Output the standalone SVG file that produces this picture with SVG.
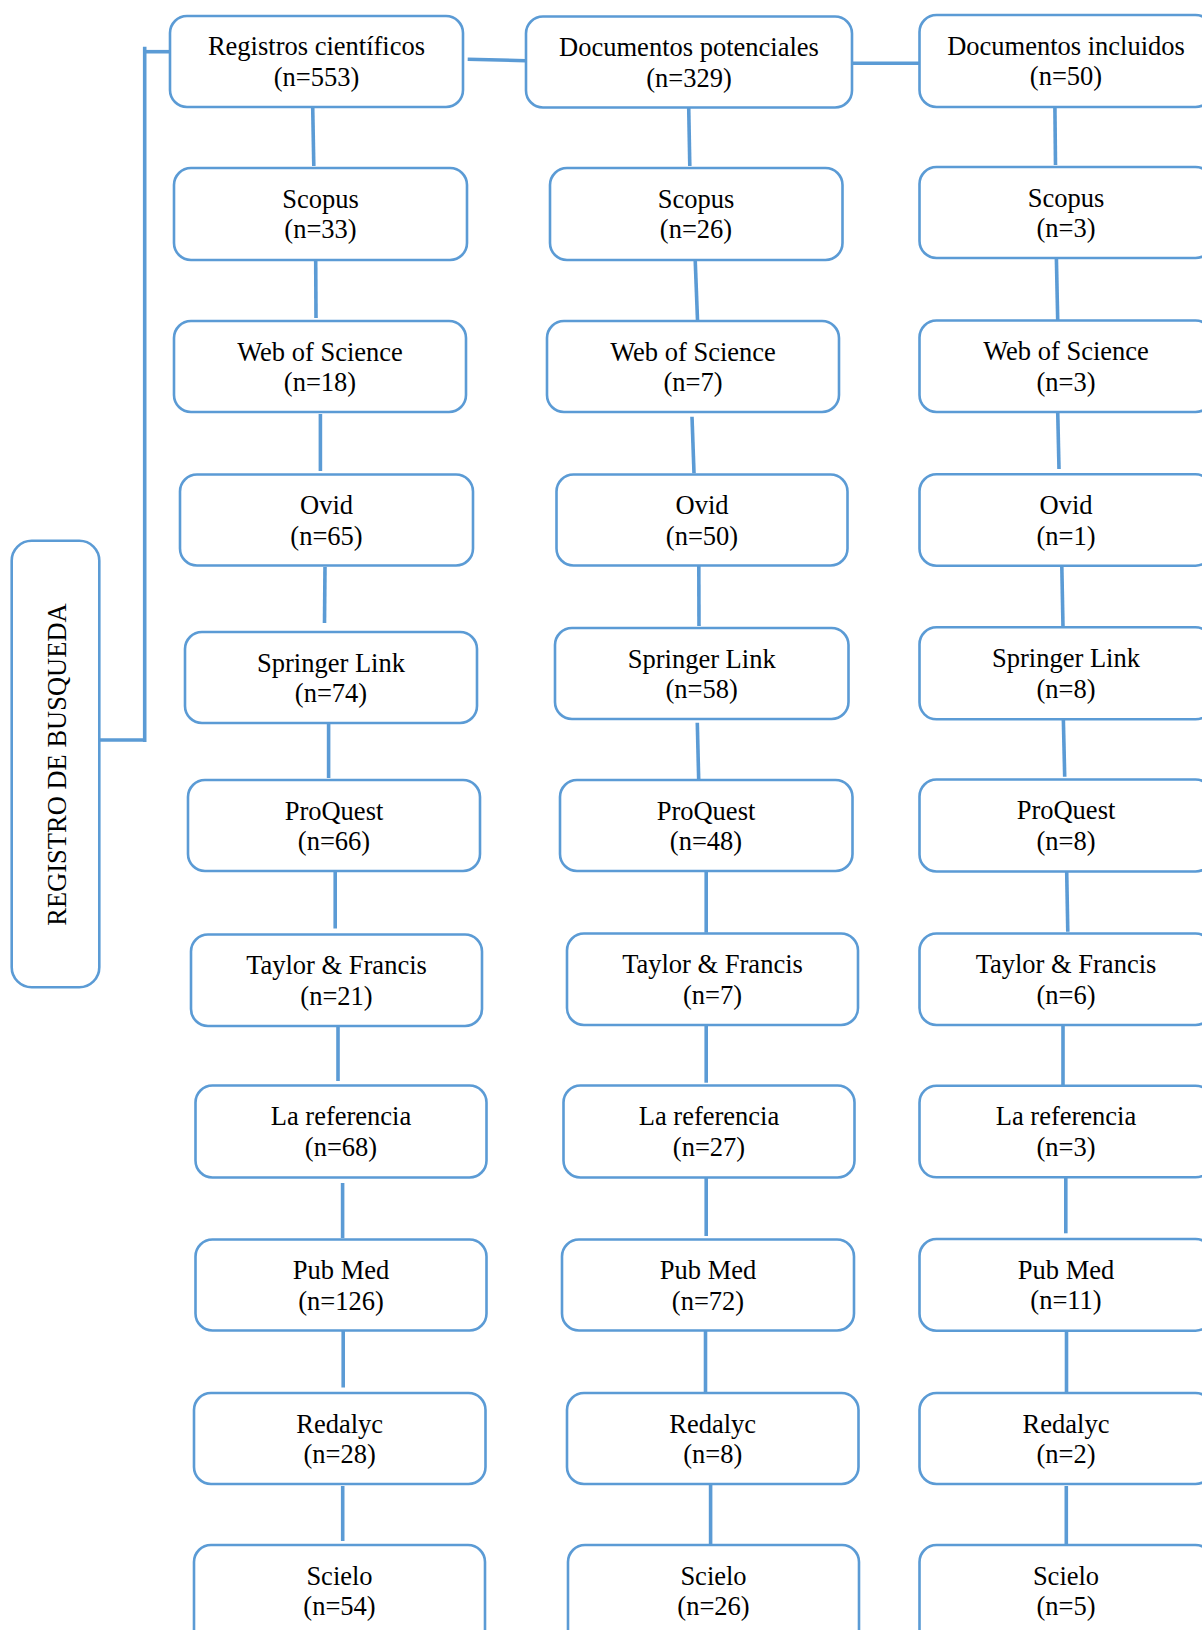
<svg xmlns="http://www.w3.org/2000/svg" width="1202" height="1630" viewBox="0 0 1202 1630">
<style>
.b{fill:#fff;stroke:#5B9BD5;stroke-width:2.6}
.t{font-family:"Liberation Serif","Times New Roman",serif;font-size:26.5px;fill:#000;text-anchor:middle}
.c line{stroke:#5B9BD5;stroke-width:3.6;fill:none}
</style>
<rect width="1202" height="1630" fill="#fff"/>
<g class="c" id="connectors">
<line x1="144.7" y1="46.7" x2="144.7" y2="742"/>
<line x1="143" y1="51.7" x2="170" y2="51.7"/>
<line x1="99" y1="740" x2="146" y2="740"/>
<line x1="467.7" y1="59.3" x2="526" y2="60.7"/>
<line x1="853" y1="63.3" x2="919" y2="63.3"/>
<line x1="312.7" y1="107" x2="313.8" y2="166"/>
<line x1="315.7" y1="261" x2="316" y2="318"/>
<line x1="320.4" y1="414" x2="320.4" y2="471"/>
<line x1="325" y1="567" x2="324.5" y2="623"/>
<line x1="328.6" y1="723" x2="328.6" y2="778"/>
<line x1="335.2" y1="872" x2="335.2" y2="928.5"/>
<line x1="338" y1="1026" x2="338" y2="1081"/>
<line x1="342.6" y1="1183" x2="342.6" y2="1238"/>
<line x1="343.2" y1="1331" x2="343.2" y2="1387.5"/>
<line x1="342.7" y1="1486" x2="342.7" y2="1541"/>
<line x1="688.7" y1="107" x2="689.8" y2="166"/>
<line x1="695.2" y1="260" x2="697.5" y2="320"/>
<line x1="692" y1="416.7" x2="694" y2="473.3"/>
<line x1="698.8" y1="566" x2="699" y2="626"/>
<line x1="697.3" y1="722.7" x2="698.7" y2="780"/>
<line x1="706.2" y1="871" x2="706.2" y2="932.7"/>
<line x1="706.2" y1="1021.3" x2="706.2" y2="1082.7"/>
<line x1="706.2" y1="1174.3" x2="706.2" y2="1236"/>
<line x1="705.5" y1="1331" x2="705.5" y2="1393"/>
<line x1="710.6" y1="1481.7" x2="710.6" y2="1545"/>
<line x1="1054.9" y1="107" x2="1055.5" y2="165"/>
<line x1="1056.4" y1="259" x2="1057.7" y2="320"/>
<line x1="1057.7" y1="411" x2="1059" y2="469"/>
<line x1="1061.8" y1="566" x2="1063" y2="626.7"/>
<line x1="1063.3" y1="717.3" x2="1064.7" y2="776.7"/>
<line x1="1066.7" y1="872" x2="1067.8" y2="931.7"/>
<line x1="1063" y1="1025" x2="1063" y2="1085.7"/>
<line x1="1065.8" y1="1171.7" x2="1065.8" y2="1233.3"/>
<line x1="1066.5" y1="1331" x2="1066.5" y2="1393"/>
<line x1="1066.3" y1="1486" x2="1066.3" y2="1545"/>
</g>
<g id="registro-busqueda"><rect class="b" x="11.7" y="540.7" width="87.6" height="446.6" rx="20"/><text class="t" transform="translate(65.5,764.5) rotate(-90)">REGISTRO DE BUSQUEDA</text></g>
<g id="c1-registros"><rect class="b" x="170" y="16" width="293" height="91" rx="17"/><text class="t" x="316.5" y="55">Registros científicos</text><text class="t" x="316.5" y="86">(n=553)</text></g>
<g id="c1-scopus"><rect class="b" x="174" y="168" width="293" height="92" rx="17"/><text class="t" x="320.5" y="208">Scopus</text><text class="t" x="320.5" y="238">(n=33)</text></g>
<g id="c1-wos"><rect class="b" x="174" y="321" width="292" height="91" rx="17"/><text class="t" x="320" y="360.5">Web of Science</text><text class="t" x="320" y="391">(n=18)</text></g>
<g id="c1-ovid"><rect class="b" x="180" y="474.5" width="293" height="91" rx="17"/><text class="t" x="326.5" y="514">Ovid</text><text class="t" x="326.5" y="544.5">(n=65)</text></g>
<g id="c1-springer"><rect class="b" x="185" y="632" width="292" height="91" rx="17"/><text class="t" x="331" y="671.5">Springer Link</text><text class="t" x="331" y="702">(n=74)</text></g>
<g id="c1-proquest"><rect class="b" x="188" y="780" width="292" height="91" rx="17"/><text class="t" x="334" y="819.5">ProQuest</text><text class="t" x="334" y="850">(n=66)</text></g>
<g id="c1-taylor"><rect class="b" x="191" y="934.5" width="291" height="91.5" rx="17"/><text class="t" x="336.5" y="974">Taylor &amp; Francis</text><text class="t" x="336.5" y="1004.5">(n=21)</text></g>
<g id="c1-laref"><rect class="b" x="195.5" y="1085.5" width="291" height="92" rx="17"/><text class="t" x="341" y="1125">La referencia</text><text class="t" x="341" y="1155.5">(n=68)</text></g>
<g id="c1-pubmed"><rect class="b" x="195.5" y="1239.5" width="291" height="91" rx="17"/><text class="t" x="341" y="1279">Pub Med</text><text class="t" x="341" y="1309.5">(n=126)</text></g>
<g id="c1-redalyc"><rect class="b" x="194" y="1393" width="291.5" height="91" rx="17"/><text class="t" x="339.7" y="1432.5">Redalyc</text><text class="t" x="339.7" y="1463">(n=28)</text></g>
<g id="c1-scielo"><rect class="b" x="194" y="1545" width="291" height="110" rx="17"/><text class="t" x="339.5" y="1584.5">Scielo</text><text class="t" x="339.5" y="1615">(n=54)</text></g>
<g id="c2-potenciales"><rect class="b" x="526" y="16.5" width="326" height="91" rx="17"/><text class="t" x="689" y="56">Documentos potenciales</text><text class="t" x="689" y="86.5">(n=329)</text></g>
<g id="c2-scopus"><rect class="b" x="550" y="168" width="292.5" height="92" rx="17"/><text class="t" x="696" y="208">Scopus</text><text class="t" x="696" y="238">(n=26)</text></g>
<g id="c2-wos"><rect class="b" x="547" y="321" width="292" height="91" rx="17"/><text class="t" x="693" y="360.5">Web of Science</text><text class="t" x="693" y="391">(n=7)</text></g>
<g id="c2-ovid"><rect class="b" x="556.5" y="474.5" width="291" height="91" rx="17"/><text class="t" x="702" y="514">Ovid</text><text class="t" x="702" y="544.5">(n=50)</text></g>
<g id="c2-springer"><rect class="b" x="555" y="628" width="293.5" height="91" rx="17"/><text class="t" x="701.7" y="667.5">Springer Link</text><text class="t" x="701.7" y="698">(n=58)</text></g>
<g id="c2-proquest"><rect class="b" x="560" y="780" width="292.5" height="91" rx="17"/><text class="t" x="706" y="819.5">ProQuest</text><text class="t" x="706" y="850">(n=48)</text></g>
<g id="c2-taylor"><rect class="b" x="567" y="933.5" width="291" height="91.5" rx="17"/><text class="t" x="712.5" y="973">Taylor &amp; Francis</text><text class="t" x="712.5" y="1003.5">(n=7)</text></g>
<g id="c2-laref"><rect class="b" x="563.5" y="1085.5" width="291" height="92" rx="17"/><text class="t" x="709" y="1125">La referencia</text><text class="t" x="709" y="1155.5">(n=27)</text></g>
<g id="c2-pubmed"><rect class="b" x="562" y="1239.5" width="292" height="91" rx="17"/><text class="t" x="708" y="1279">Pub Med</text><text class="t" x="708" y="1309.5">(n=72)</text></g>
<g id="c2-redalyc"><rect class="b" x="567" y="1393" width="291.5" height="91" rx="17"/><text class="t" x="712.7" y="1432.5">Redalyc</text><text class="t" x="712.7" y="1463">(n=8)</text></g>
<g id="c2-scielo"><rect class="b" x="568" y="1545" width="291" height="110" rx="17"/><text class="t" x="713.5" y="1584.5">Scielo</text><text class="t" x="713.5" y="1615">(n=26)</text></g>
<g id="c3-incluidos"><rect class="b" x="919.5" y="15" width="293" height="92" rx="17"/><text class="t" x="1066" y="54.5">Documentos incluidos</text><text class="t" x="1066" y="85">(n=50)</text></g>
<g id="c3-scopus"><rect class="b" x="919.5" y="167" width="293" height="91" rx="17"/><text class="t" x="1066" y="206.5">Scopus</text><text class="t" x="1066" y="237">(n=3)</text></g>
<g id="c3-wos"><rect class="b" x="919.5" y="320.5" width="293" height="91.5" rx="17"/><text class="t" x="1066" y="360">Web of Science</text><text class="t" x="1066" y="390.5">(n=3)</text></g>
<g id="c3-ovid"><rect class="b" x="919.5" y="474.3" width="293" height="91.4" rx="17"/><text class="t" x="1066" y="514">Ovid</text><text class="t" x="1066" y="544.5">(n=1)</text></g>
<g id="c3-springer"><rect class="b" x="919.5" y="627.3" width="293" height="92" rx="17"/><text class="t" x="1066" y="667">Springer Link</text><text class="t" x="1066" y="697.5">(n=8)</text></g>
<g id="c3-proquest"><rect class="b" x="919.5" y="779.5" width="293" height="92" rx="17"/><text class="t" x="1066" y="819">ProQuest</text><text class="t" x="1066" y="849.5">(n=8)</text></g>
<g id="c3-taylor"><rect class="b" x="919.5" y="933.5" width="293" height="91.5" rx="17"/><text class="t" x="1066" y="973">Taylor &amp; Francis</text><text class="t" x="1066" y="1003.5">(n=6)</text></g>
<g id="c3-laref"><rect class="b" x="919.5" y="1085.7" width="293" height="91.6" rx="17"/><text class="t" x="1066" y="1125">La referencia</text><text class="t" x="1066" y="1155.5">(n=3)</text></g>
<g id="c3-pubmed"><rect class="b" x="919.5" y="1239" width="293" height="91.7" rx="17"/><text class="t" x="1066" y="1278.5">Pub Med</text><text class="t" x="1066" y="1309">(n=11)</text></g>
<g id="c3-redalyc"><rect class="b" x="919.5" y="1393" width="293" height="91" rx="17"/><text class="t" x="1066" y="1432.5">Redalyc</text><text class="t" x="1066" y="1463">(n=2)</text></g>
<g id="c3-scielo"><rect class="b" x="919.5" y="1545" width="293" height="110" rx="17"/><text class="t" x="1066" y="1584.5">Scielo</text><text class="t" x="1066" y="1615">(n=5)</text></g>
</svg>
